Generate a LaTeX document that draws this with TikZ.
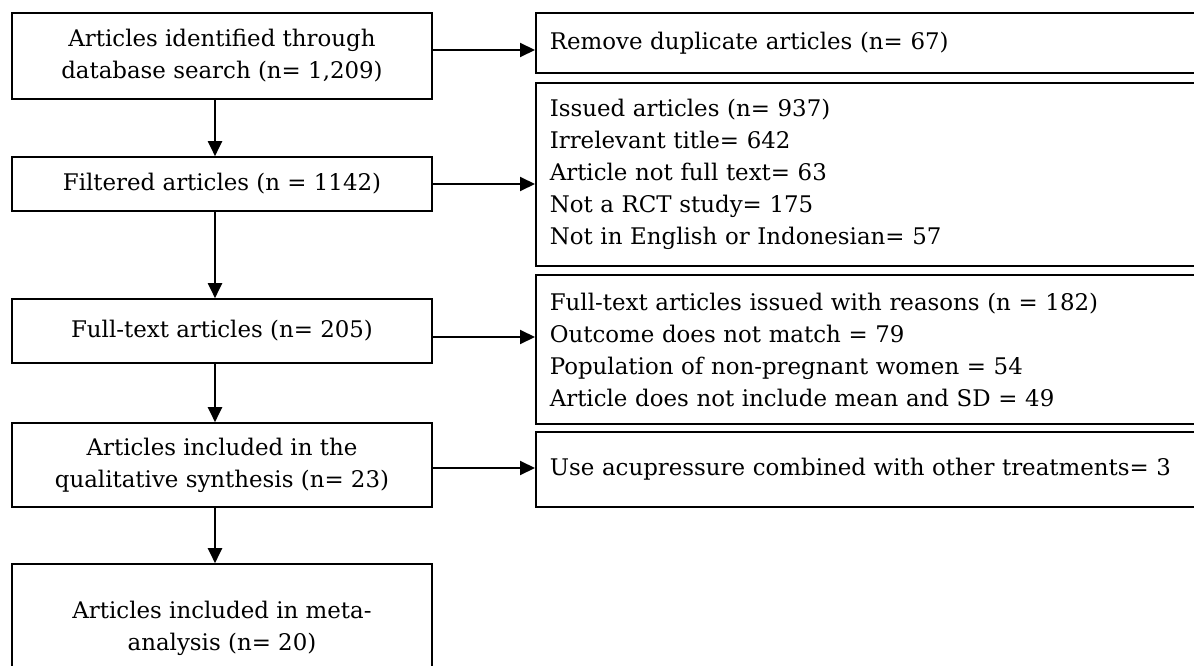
\documentclass[tikz,border=0pt]{standalone}
\usepackage{fontspec}
\setmainfont{DejaVu Serif}
\usetikzlibrary{arrows.meta}
\tikzset{
  lbox/.style={draw,line width=1.6pt,minimum width=420pt,align=center,inner sep=4pt,font=\fontsize{22.9}{32}\selectfont},
  rbox/.style={draw,line width=1.6pt,anchor=west,text width=650pt,align=left,inner xsep=14pt,inner ysep=4pt,font=\fontsize{22.9}{32}\selectfont},
  arr/.style={line width=2pt,-{Triangle[length=15pt,width=14pt]}}
}
\begin{document}
\begin{tikzpicture}[x=1pt,y=-1pt]
\pgfmathsetmacro{\lx}{222}   %left column centre
\pgfmathsetmacro{\rx}{535}   %right column edge
\pgfmathsetmacro{\dx}{-7}    %down arrows sit a bit left
\useasboundingbox (0,0) rectangle (1194,666);
\clip (0,0) rectangle (1194,666);
%main column
\node[lbox,minimum height=86pt](found) at (\lx,56){Articles identified through\\database search (n= 1,209)};
\node[lbox,minimum height=54pt](filtered) at (\lx,184){Filtered articles (n = 1142)};
\node[lbox,minimum height=64pt](fulltext) at (\lx,331){Full-text articles (n= 205)};
\node[lbox,minimum height=84pt](qual) at (\lx,465){Articles included in the\\qualitative synthesis (n= 23)};
\node[lbox,minimum height=128pt](meta) at (\lx,628){Articles included in meta-\\analysis (n= 20)};
%excluded column
\node[rbox,minimum height=60pt](dup) at (\rx,43){Remove duplicate articles (n= 67)};
\node[rbox,minimum height=183pt](issued) at (\rx,174.5){Issued articles (n= 937)\\Irrelevant title= 642\\Article not full text= 63\\Not a RCT study= 175\\Not in English or Indonesian= 57};
\node[rbox,minimum height=149pt](reasons) at (\rx,349.5){Full-text articles issued with reasons (n = 182)\\Outcome does not match = 79\\Population of non-pregnant women = 54\\Article does not include mean and SD = 49};
\node[rbox,minimum height=75pt](combined) at (\rx,469.5){Use acupressure combined with other treatments= 3};
%down arrows
\draw[arr]([xshift=\dx pt]found.south)--([xshift=\dx pt]filtered.north);
\draw[arr]([xshift=\dx pt]filtered.south)--([xshift=\dx pt]fulltext.north);
\draw[arr]([xshift=\dx pt]fulltext.south)--([xshift=\dx pt]qual.north);
\draw[arr]([xshift=\dx pt]qual.south)--([xshift=\dx pt]meta.north);
%side arrows
\draw[arr]([yshift=6pt]found.east)--([yshift=6pt]found.east -| dup.west);
\draw[arr](filtered.east)--(filtered.east -| issued.west);
\draw[arr]([yshift=-6pt]fulltext.east)--([yshift=-6pt]fulltext.east -| reasons.west);
\draw[arr]([yshift=-3pt]qual.east)--([yshift=-3pt]qual.east -| combined.west);
\end{tikzpicture}
\end{document}
